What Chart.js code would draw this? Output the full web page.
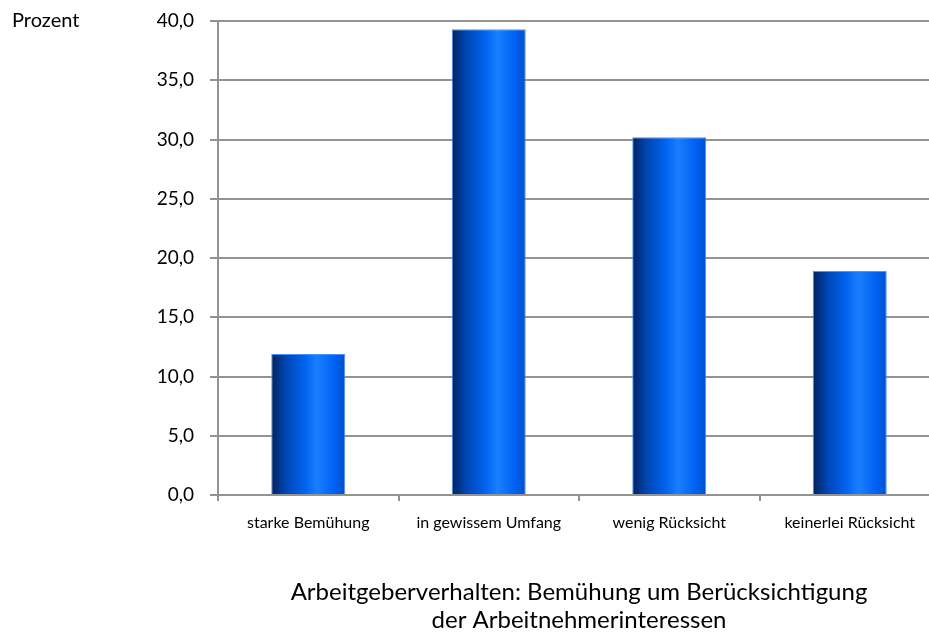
<!DOCTYPE html>
<html>
<head>
<meta charset="utf-8">
<script src="https://cdn.jsdelivr.net/npm/chart.js@4"></script>
<style>
    html, body { margin: 0; padding: 0; background: #fff; overflow: hidden; }
    #wrap { position: relative; width: 940px; height: 637px; }
    #prozent { position: absolute; left: 12px; top: 7px; font: 20px Lato, sans-serif; color: #000; }
</style>
</head>
<body>
<div id="wrap">
    <canvas id="chart"></canvas>
    <div id="prozent">Prozent</div>
</div>
<script>
var categories = ["starke Bemühung", "in gewissem Umfang", "wenig Rücksicht", "keinerlei Rücksicht"];
var values = [11.9, 39.3, 30.2, 18.9];
var axisTitle = ["Arbeitgeberverhalten: Bemühung um Berücksichtigung", "der Arbeitnehmerinteressen"];

function barGradient (context) {
    var chart = context.chart;
    if (!chart.chartArea || !chart.scales.x) {
        return "#0060f0";
    }
    var x = chart.scales.x.getPixelForValue(context.dataIndex);
    var half = 37;
    var g = chart.ctx.createLinearGradient(x - half, 0, x + half, 0);
    g.addColorStop(0, "#00235e");
    g.addColorStop(0.2, "#0046b4");
    g.addColorStop(0.45, "#0063ee");
    g.addColorStop(0.62, "#1a7eff");
    g.addColorStop(0.85, "#0062f4");
    g.addColorStop(1, "#0050cc");
    return g;
}

new Chart(document.getElementById("chart").getContext("2d"), {
    type: "bar",
    data: {
        labels: categories,
        datasets: [{
            label: "Prozent",
            data: values,
            backgroundColor: barGradient,
            borderColor: "#4a92ff",
            borderWidth: 1,
            barPercentage: 0.41,
            categoryPercentage: 1
        }]
    },
    options: {
        responsive: true,
        maintainAspectRatio: false,
        animation: false,
        layout: { padding: { top: 21, left: 0, right: 0, bottom: 0 } },
        plugins: {
            legend: { display: false },
            tooltip: { enabled: false }
        },
        scales: {
            x: {
                grid: { drawOnChartArea: false, drawTicks: true, tickLength: 6, color: "#939393", lineWidth: 2 },
                border: { color: "#939393", width: 2 },
                ticks: { color: "#000", padding: 12, font: { family: "Lato", size: 16 } },
                title: {
                    display: true,
                    text: axisTitle,
                    color: "#000",
                    font: { family: "Lato", size: 24, lineHeight: 1.2 },
                    padding: { top: 0, bottom: 2 }
                },
                afterFit: (scale) => { scale.height = 142; }
            },
            y: {
                min: 0,
                max: 40,
                grid: { color: "#939393", lineWidth: 2, tickLength: 8 },
                border: { color: "#939393", width: 2 },
                ticks: {
                    stepSize: 5,
                    color: "#000",
                    padding: 16,
                    font: { family: "Lato", size: 19 },
                    callback: (v) => v.toFixed(1).replace(".", ",")
                },
                afterFit: (scale) => {
                    scale.width = 218;
                    scale.paddingTop = 0;
                    scale.paddingBottom = 0;
                }
            }
        }
    }
});
</script>
</body>
</html>
